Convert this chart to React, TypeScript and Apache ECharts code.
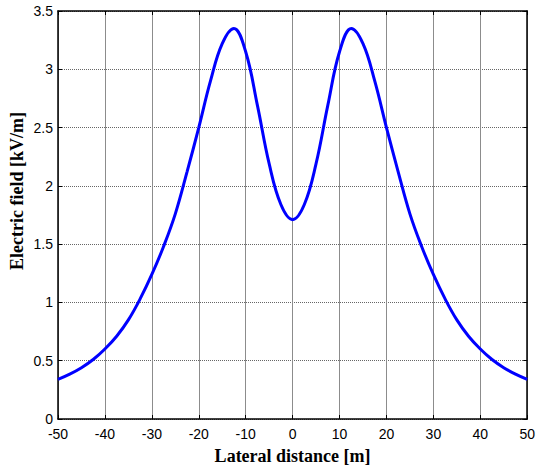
import React, { useEffect, useRef } from "react";
import * as echarts from "echarts";

const xValues = [
  -50, -47.5, -45, -42.5, -40, -37.5, -35, -32.5, -30, -27.5, -25, -22.5, -20, -17.5, -15, -12.5, -10, -7.5, -5, -2.5,
  0, 2.5, 5, 7.5, 10, 12.5, 15, 17.5, 20, 22.5, 25, 27.5, 30, 32.5, 35, 37.5, 40, 42.5, 45, 47.5, 50,
];
const fieldValues = [
  0.34, 0.385, 0.44, 0.51, 0.6, 0.71, 0.85, 1.03, 1.24, 1.48, 1.76, 2.12, 2.5, 2.9, 3.22, 3.35, 3.15, 2.69, 2.19, 1.84,
  1.71, 1.84, 2.19, 2.69, 3.15, 3.35, 3.22, 2.9, 2.5, 2.12, 1.76, 1.48, 1.24, 1.03, 0.85, 0.71, 0.6, 0.51, 0.44, 0.385, 0.34,
];
const xTitle = "Lateral distance [m]";
const yTitle = "Electric field [kV/m]";

export default function App() {
  const ref = useRef<HTMLDivElement>(null);
  useEffect(() => {
    if (!ref.current) return;
    const chart = echarts.init(ref.current, null, { renderer: "svg" });
    const labelStyle = { color: "#000", fontFamily: "Liberation Sans, Arial", fontSize: 14 };
    const hiddenAxis = {
      axisLine: { show: true, onZero: false, lineStyle: { color: "#000", width: 1.5 } },
      axisTick: { show: true, inside: true, length: 4, lineStyle: { color: "#000" } },
      axisLabel: { show: false },
      splitLine: { show: false },
    };
    chart.setOption({
      animation: false,
      backgroundColor: "#fff",
      grid: { left: 58, right: 7, top: 11, bottom: 50, containLabel: false },
      xAxis: [
        {
          type: "value",
          min: -50,
          max: 50,
          interval: 10,
          position: "bottom",
          name: xTitle,
          nameLocation: "middle",
          nameGap: 28,
          nameTextStyle: { fontFamily: "Liberation Serif, Times New Roman", fontWeight: "bold", fontSize: 18, color: "#000" },
          axisLine: { show: true, onZero: false, lineStyle: { color: "#000", width: 1.5 } },
          axisTick: { show: true, inside: true, length: 4, lineStyle: { color: "#000" } },
          axisLabel: { ...labelStyle, margin: 8 },
          splitLine: { show: true, lineStyle: { color: "#8c8c8c", width: 1, type: "solid" } },
        },
        { type: "value", min: -50, max: 50, interval: 10, position: "top", ...hiddenAxis },
      ],
      yAxis: [
        {
          type: "value",
          min: 0,
          max: 3.5,
          interval: 0.5,
          position: "left",
          axisLine: { show: true, onZero: false, lineStyle: { color: "#000", width: 1.5 } },
          axisTick: { show: true, inside: true, length: 4, lineStyle: { color: "#000" } },
          axisLabel: { ...labelStyle, margin: 5 },
          splitLine: { show: true, lineStyle: { color: "#666", width: 1, type: [1, 1] } },
        },
        { type: "value", min: 0, max: 3.5, interval: 0.5, position: "right", ...hiddenAxis },
      ],
      graphic: [
        {
          type: "text",
          x: 17,
          y: 191,
          rotation: Math.PI / 2,
          style: {
            text: yTitle,
            fontFamily: "Liberation Serif, Times New Roman",
            fontWeight: "bold",
            fontSize: 18,
            fill: "#000",
            align: "center",
            verticalAlign: "middle",
          },
        },
      ],
      series: [
        {
          type: "line",
          xAxisIndex: 0,
          yAxisIndex: 0,
          data: xValues.map((x, i) => [x, fieldValues[i]]),
          smooth: 0.4,
          showSymbol: false,
          symbol: "none",
          lineStyle: { color: "#0000ff", width: 3 },
          clip: false,
        },
      ],
    });
    return () => chart.dispose();
  }, []);
  return <div ref={ref} style={{ width: 538, height: 470, position: "absolute", left: 0, top: 0 }} />;
}
